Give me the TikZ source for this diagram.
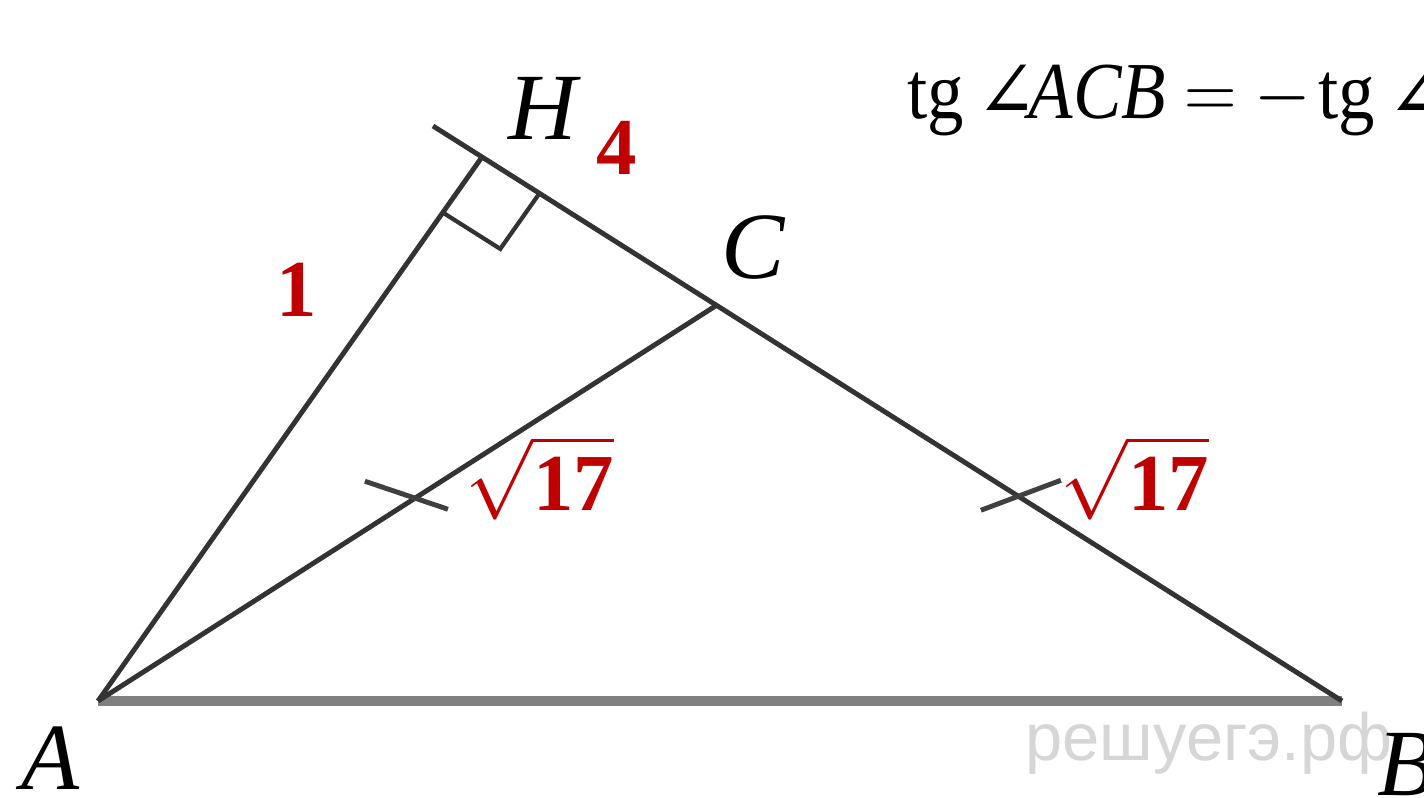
\documentclass[tikz,border=0pt]{standalone}
\usepackage{fix-cm}
\usepackage{amsmath}
\usepackage{fontspec}
\setmainfont{Liberation Serif}
\newfontfamily\wmfont{Liberation Sans}
\newfontfamily\symfont{DejaVu Serif}
\usetikzlibrary{calc,positioning}
\definecolor{lblred}{RGB}{192,0,0}
\definecolor{wmgray}{RGB}{214,214,214}

\begin{document}
\begin{tikzpicture}[seg/.style={line width=1.4pt,draw=black!80}, base/.style={line width=2.6pt,draw=black!50}, tickline/.style={line width=1.4pt,draw=black!75}, vlabel/.style={inner sep=0pt,font=\fontsize{27}{28}\selectfont\itshape}, numlabel/.style={inner sep=0pt,text=lblred,font=\fontsize{23}{24}\selectfont\bfseries}]
\useasboundingbox (0,0) rectangle (14.24,7.97);
\fill[white] (0,0) rectangle (14.24,7.97);
% vertices
\coordinate (A) at (0.98,0.96);
\coordinate (B) at (13.42,0.96);
\coordinate (C) at (7.17,4.92);
\coordinate (H) at (4.82,6.40);
\coordinate (E) at ($(H)!-0.057!(B)$);
% watermark
\node[inner sep=0pt, text=wmgray, font=\wmfont\fontsize{19}{20}\selectfont, anchor=base west] (wm) at (10.25,0.37) {решуегэ.рф};
% sides
\draw[base] (A) -- (B);
\draw[seg] (A) -- (H);
\draw[seg] (A) -- (C);
\draw[seg] (E) -- (B);
% right angle at H
\coordinate (Ha) at ($(H)!0.68cm!(A)$);
\coordinate (Hb) at ($(H)!0.68cm!(B)$);
\draw[line width=1.2pt,draw=black!80] (Ha) -- ($(Ha)+(Hb)-(H)$) -- (Hb);
% equal ticks
\coordinate (M1) at ($(A)!0.512!(C)$);
\coordinate (M2) at ($(C)!0.483!(B)$);
\draw[tickline] ($(M1)+(-0.50,0.17)$) -- ($(M1)+(0.33,-0.11)$);
\draw[tickline] ($(M2)+(-0.38,-0.14)$) -- ($(M2)+(0.42,0.16)$);
% labels
\node[vlabel] (lH) at (5.43,6.89) {H};
\node[vlabel] (lC) at (7.53,5.49) {C};
\node[vlabel] (lA) at (0.50,0.39) {A};
\node[vlabel] (lB) at (14.06,0.32) {B};
\node[numlabel] (nAH) at (2.97,5.07) {1};
\node[numlabel] (nHC) at (6.17,6.49) {4};
\node[numlabel] (nAC) at (5.40,3.19) {$\sqrt{\textbf{17}}$};
\node[numlabel] (nCB) at (11.35,3.19) {$\sqrt{\textbf{17}}$};
\node[inner sep=0pt, anchor=base west, font=\fontsize{23}{24}\selectfont] (tgrel) at (9.07,6.78) {\scalebox{0.9}[1]{tg\,{\symfont ∠}\kern-0.12em\textit{ACB} $=$ $-$\kern0.1em tg\,{\symfont ∠}}};
\end{tikzpicture}
\end{document}
